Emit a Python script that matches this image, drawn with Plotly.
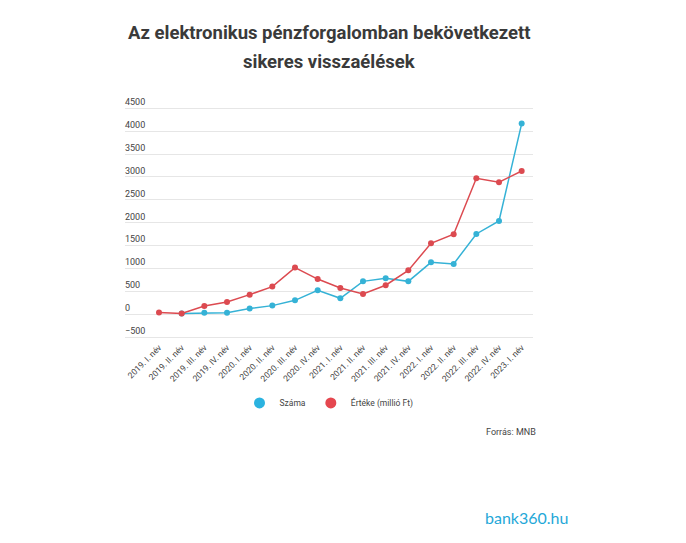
import plotly.graph_objects as go

# Negyedéves adatok (MNB)
quarters = [
    "2019. I. név", "2019. II. név", "2019. III. név", "2019. IV. név",
    "2020. I. név", "2020. II. név", "2020. III. név", "2020. IV. név",
    "2021. I. név", "2021. II. név", "2021. III. név", "2021. IV. név",
    "2022. I. név", "2022. II. név", "2022. III. név", "2022. IV. név",
    "2023. I. név",
]
szama = [None, 20, 35, 35, 125, 190, 305, 525, 350, 720, 785, 720,
         1135, 1100, 1755, 2040, 4165]
erteke = [40, 20, 180, 270, 430, 605, 1020, 770, 575, 445, 635, 960,
          1550, 1750, 2970, 2885, 3130]
y_ticks = [-500, 0, 500, 1000, 1500, 2000, 2500, 3000, 3500, 4000, 4500]

CYAN = "#35b2d6"
RED = "#dc4a50"
FONT = "Roboto"
TITLE_COLOR = "#3a3a3a"

fig = go.Figure()

fig.add_trace(
    go.Scatter(
        x=quarters, y=szama, name="Száma", mode="lines+markers",
        line=dict(color=CYAN, width=1.5),
        marker=dict(color=CYAN, size=6),
        showlegend=False,
    )
)
fig.add_trace(
    go.Scatter(
        x=quarters, y=erteke, name="Értéke (millió Ft)", mode="lines+markers",
        line=dict(color=RED, width=1.5),
        marker=dict(color=RED, size=6),
        showlegend=False,
    )
)

# legend entries: big dots only
for name, color in [("Száma", "#2bb3e0"), ("Értéke (millió Ft)", "#e5474f")]:
    fig.add_trace(
        go.Scatter(
            x=[None], y=[None], name=name, mode="markers",
            marker=dict(color=color, size=11),
        )
    )

# note: the page body adds an 8px offset, margins are compensated for it
fig.update_layout(
    width=686,
    height=543,
    paper_bgcolor="white",
    plot_bgcolor="white",
    margin=dict(l=117, r=161, t=86, b=211),
    font=dict(family=FONT, color="#444444", size=9),
    xaxis=dict(
        type="category",
        range=[-1.5, 16.5],
        tickangle=-45,
        showgrid=False,
        showline=False,
        ticks="",
        automargin=False,
        tickfont=dict(size=8.5, color="#444444"),
    ),
    yaxis=dict(
        range=[-561, 4812],
        tickvals=y_ticks,
        ticklabelposition="inside top",
        ticklabelstandoff=-3,
        showgrid=True,
        gridcolor="#e6e6e6",
        gridwidth=1,
        zeroline=False,
        showline=False,
        ticks="",
        automargin=False,
        tickfont=dict(size=9, color="#444444"),
    ),
    legend=dict(
        orientation="h",
        x=0.5, xanchor="center",
        y=-0.256, yanchor="middle",
        font=dict(size=8.5, color="#444444"),
        itemwidth=30,
        tracegroupgap=0,
    ),
    annotations=[
        dict(
            text="<b>Az elektronikus pénzforgalomban bekövetkezett</b>",
            x=0.502, y=1.248, xref="paper", yref="paper",
            xanchor="center", yanchor="middle", showarrow=False,
            font=dict(size=18.5, color=TITLE_COLOR),
        ),
        dict(
            text="<b>sikeres visszaélések</b>",
            x=0.502, y=1.130, xref="paper", yref="paper",
            xanchor="center", yanchor="middle", showarrow=False,
            font=dict(size=18.5, color=TITLE_COLOR),
        ),
        dict(
            text="Forrás: MNB", x=1.012, y=-0.374, xref="paper", yref="paper",
            xanchor="right", yanchor="middle", showarrow=False,
            font=dict(size=9, color="#444444"),
        ),
        dict(
            text="bank360.hu", x=1.09, y=-0.72, xref="paper", yref="paper",
            xanchor="right", yanchor="middle", showarrow=False,
            font=dict(family="Lato", size=16, color="#1fa8d8"),
        ),
    ],
)

fig.write_html("out.html")
